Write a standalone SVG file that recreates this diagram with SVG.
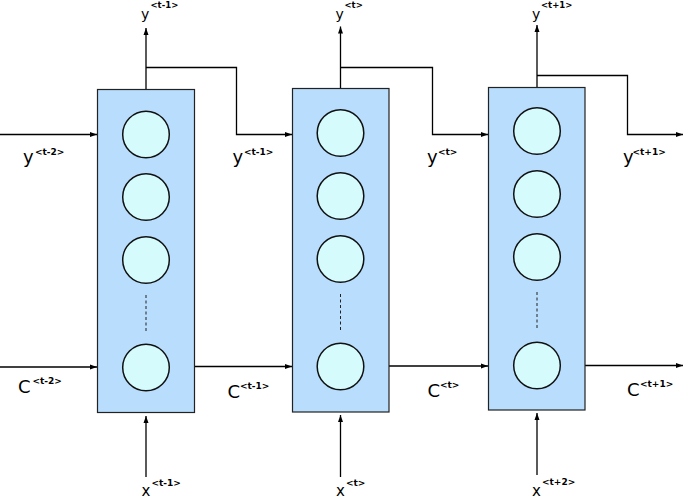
<svg xmlns="http://www.w3.org/2000/svg" width="685" height="497" viewBox="0 0 685 497">
<defs>
<marker id="ah" markerWidth="8" markerHeight="6" refX="7" refY="3" orient="auto" markerUnits="userSpaceOnUse">
<path d="M0,0.5 L7,3 L0,5.5 Z" fill="#000"/>
</marker>
<style>
.box{fill:#b9ddfc;stroke:#222;stroke-width:1.2}
.cell{fill:#d5fbfd;stroke:#111;stroke-width:1.5}
.dash{stroke:#222;stroke-width:1;stroke-dasharray:3,2.5;fill:none}
.con{fill:none;stroke:#000;stroke-width:1.3}
.arr{marker-end:url(#ah)}
text{font-family:"DejaVu Sans",Verdana,sans-serif;fill:#000}
.m{font-size:18px}
.c{font-size:18px}
.x{font-size:15px}
.s{font-size:9px;font-weight:bold}
.tm{font-size:14px}
.ts{font-size:8.5px;font-weight:bold}
</style>
</defs>
<rect width="685" height="497" fill="#fff"/>

<g id="connectors">
<path class="con arr" d="M146 89 V28"/>
<path class="con arr" d="M146 67.5 H236.5 V134.5 H292"/>
<path class="con arr" d="M0 134.5 H97"/>
<path class="con arr" d="M0 367 H97"/>
<path class="con arr" d="M194 366.5 H292"/>
<path class="con arr" d="M146 477 V416"/>

<path class="con arr" d="M340.5 88 V26.5"/>
<path class="con arr" d="M340.5 67.5 H432.5 V134.5 H488"/>
<path class="con arr" d="M389 366 H488"/>
<path class="con arr" d="M340.5 477 V415"/>

<path class="con arr" d="M537 87 V25"/>
<path class="con arr" d="M537 75.5 H627.5 V134.5 H683"/>
<path class="con arr" d="M585 365.5 H683"/>
<path class="con arr" d="M537 475 V413"/>
</g>

<g id="cell1">
<rect class="box" x="97.5" y="89.5" width="97" height="323"/>
<circle class="cell" cx="146" cy="134.5" r="23.3"/>
<circle class="cell" cx="146" cy="197" r="23.3"/>
<circle class="cell" cx="146" cy="260" r="23.3"/>
<line class="dash" x1="146" y1="295" x2="146" y2="332"/>
<circle class="cell" cx="146" cy="367.5" r="23.3"/>
</g>

<g id="cell2">
<rect class="box" x="292.5" y="88.5" width="96.5" height="323.5"/>
<circle class="cell" cx="340.5" cy="133" r="23.3"/>
<circle class="cell" cx="340.5" cy="196" r="23.3"/>
<circle class="cell" cx="340.5" cy="259" r="23.3"/>
<line class="dash" x1="340.5" y1="294" x2="340.5" y2="331"/>
<circle class="cell" cx="340.5" cy="366.5" r="23.3"/>
</g>

<g id="cell3">
<rect class="box" x="488.5" y="87.5" width="96.5" height="322.5"/>
<circle class="cell" cx="537" cy="131" r="23.3"/>
<circle class="cell" cx="537" cy="194" r="23.3"/>
<circle class="cell" cx="537" cy="257" r="23.3"/>
<line class="dash" x1="537" y1="292" x2="537" y2="329"/>
<circle class="cell" cx="537" cy="365.5" r="23.3"/>
</g>

<g id="labels">
<text class="tm" x="141" y="19">y</text><text class="ts" x="150.5" y="7.5">&lt;t-1&gt;</text>
<text class="tm" x="335.5" y="19">y</text><text class="ts" x="344.5" y="7.5">&lt;t&gt;</text>
<text class="tm" x="532" y="19">y</text><text class="ts" x="541" y="7.5">&lt;t+1&gt;</text>

<text class="m" x="23" y="163">y</text><text class="s" x="35" y="154.5">&lt;t-2&gt;</text>
<text class="m" x="232.5" y="163">y</text><text class="s" x="244" y="154.5">&lt;t-1&gt;</text>
<text class="m" x="427" y="163">y</text><text class="s" x="438" y="154.5">&lt;t&gt;</text>
<text class="m" x="623" y="163">y</text><text class="s" x="632.5" y="154.5">&lt;t+1&gt;</text>

<text class="c" x="18" y="392.5">C</text><text class="s" x="32.5" y="383.5">&lt;t-2&gt;</text>
<text class="c" x="227.5" y="397.5">C</text><text class="s" x="240" y="388.5">&lt;t-1&gt;</text>
<text class="c" x="427.5" y="396.5">C</text><text class="s" x="440" y="387.5">&lt;t&gt;</text>
<text class="c" x="627" y="396">C</text><text class="s" x="640" y="387">&lt;t+1&gt;</text>

<text class="x" x="141.5" y="496">x</text><text class="s" x="151.5" y="485.5">&lt;t-1&gt;</text>
<text class="x" x="336" y="496">x</text><text class="s" x="346" y="485.5">&lt;t&gt;</text>
<text class="x" x="532" y="496">x</text><text class="s" x="542" y="485">&lt;t+2&gt;</text>
</g>
</svg>
